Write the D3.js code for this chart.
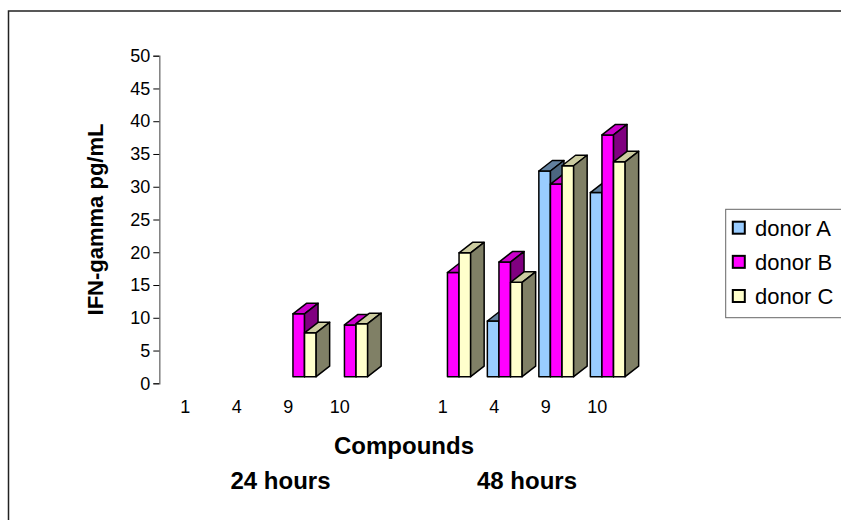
<!DOCTYPE html>
<html>
<head>
<meta charset="utf-8">
<script src="https://cdn.jsdelivr.net/npm/d3@7"></script>
<style>
  body { margin: 0; background: #fff; }
  text { font-family: Arial, "Liberation Sans", sans-serif; fill: #000; }
</style>
</head>
<body>
<div id="chart-area"></div>
<script>
// data (null = no bar drawn)
const slotLabels = ["1", "4", "9", "10", "", "1", "4", "9", "10"]
const donorA = [null, null, null, null, null, null, 8.5, 31.4, 28.1]
const donorB = [null, null, 9.6, 7.9, null, 15.9, 17.5, 29.4, 36.9]
const donorC = [null, null, 6.7, 8.1, null, 18.9, 14.4, 32.2, 32.8]
const seriesNames = ["donor A", "donor B", "donor C"]
const groupLabels = ["24 hours", "48 hours"]
const yTicks = [0, 5, 10, 15, 20, 25, 30, 35, 40, 45, 50]

const WIDTH = 841
const HEIGHT = 520

// bar face colours: front, top, side
const FRONT = ["#99CCFF", "#FF00FF", "#FFFFCC"]
const TOP = ["#62809E", "#CC00CC", "#CCCCA0"]
const SIDE = ["#4C6680", "#800080", "#808066"]

// 3d look: bars sit a bit behind the floor front edge, and have depth
const SHIFT = { X: 10.5, Y: 6.6 }
const DEPTH = { X: 13.5, Y: 10.5 }
const BAR_W = 11.6

const svg = d3.select("#chart-area").append("svg")
  .attr("width", WIDTH)
  .attr("height", HEIGHT)

// chart frame (runs off the right and bottom edges)
svg.append("rect")
  .attr("x", 8.5)
  .attr("y", 11)
  .attr("width", 900)
  .attr("height", 600)
  .attr("fill", "none")
  .attr("stroke", "#222")
  .attr("stroke-width", 1.5)

// scales
const x = d3.scaleBand()
  .domain(d3.range(slotLabels.length))
  .range([159.5, 623])
const y = d3.scaleLinear()
  .domain([0, 50])
  .range([383.3, 55.7])

// y axis
const yAxis = svg.append("g")
  .attr("transform", "translate(159.3, 0)")
  .call(d3.axisLeft(y).tickValues(yTicks).tickSize(6).tickPadding(3))
yAxis.select(".domain").attr("stroke", "#808080").attr("stroke-width", 1.5)
yAxis.selectAll(".tick line").attr("stroke", "#000")
yAxis.selectAll(".tick text")
  .attr("font-size", "18px")
  .attr("font-family", "Arial, 'Liberation Sans', sans-serif")
  .attr("fill", "#000")

// y axis title, centred on the value axis
svg.append("text")
  .attr("transform", `translate(102.5, ${(y(0) + y(50)) / 2}) rotate(-90)`)
  .attr("text-anchor", "middle")
  .attr("font-size", "22px")
  .attr("font-weight", "bold")
  .text("IFN-gamma pg/mL")

// category labels
svg.append("g").selectAll("text")
  .data(slotLabels)
  .join("text")
  .attr("x", (d, i) => x(i) + x.bandwidth() / 2)
  .attr("y", 413)
  .attr("text-anchor", "middle")
  .attr("font-size", "18px")
  .text(d => d)

// x axis titles
svg.append("text")
  .attr("x", 404)
  .attr("y", 454)
  .attr("text-anchor", "middle")
  .attr("font-size", "24px")
  .attr("font-weight", "bold")
  .text("Compounds")

const GROUP_X = [280.5, 527]
svg.append("g").selectAll("text")
  .data(groupLabels)
  .join("text")
  .attr("x", (d, i) => GROUP_X[i])
  .attr("y", 489)
  .attr("text-anchor", "middle")
  .attr("font-size", "24px")
  .attr("font-weight", "bold")
  .text(d => d)

// bars, drawn left to right so nearer faces cover farther ones
const series = [donorA, donorB, donorC]
const bars = []
slotLabels.forEach((lab, i) => {
  series.forEach((vals, j) => {
    if (vals[i] == null) return
    bars.push({ slot: i, s: j, value: vals[i] })
  })
})

const base = y(0) - SHIFT.Y
const barG = svg.append("g")
  .attr("stroke", "#000")
  .attr("stroke-width", 1.5)
  .attr("stroke-linejoin", "round")

bars.forEach(d => {
  const x0 = x(d.slot) + x.bandwidth() / 2 - 1.5 * BAR_W + d.s * BAR_W + SHIFT.X
  const x1 = x0 + BAR_W
  const top = y(d.value) - SHIFT.Y
  const g = barG.append("g")
  g.append("rect")
    .attr("x", x0)
    .attr("y", top)
    .attr("width", BAR_W)
    .attr("height", base - top)
    .attr("fill", FRONT[d.s])
  g.append("polygon")
    .attr("points", [[x0, top], [x1, top], [x1 + DEPTH.X, top - DEPTH.Y], [x0 + DEPTH.X, top - DEPTH.Y]].join(" "))
    .attr("fill", TOP[d.s])
  g.append("polygon")
    .attr("points", [[x1, top], [x1 + DEPTH.X, top - DEPTH.Y], [x1 + DEPTH.X, base - DEPTH.Y], [x1, base]].join(" "))
    .attr("fill", SIDE[d.s])
})

// legend
const legend = svg.append("g")
legend.append("rect")
  .attr("x", 725.7)
  .attr("y", 209.3)
  .attr("width", 140)
  .attr("height", 108.4)
  .attr("fill", "#fff")
  .attr("stroke", "#666")
  .attr("stroke-width", 1)

const rowY = d3.scalePoint()
  .domain(seriesNames)
  .range([227.7, 296])

seriesNames.forEach((name, j) => {
  legend.append("rect")
    .attr("x", 732.8)
    .attr("y", rowY(name) - 6)
    .attr("width", 12)
    .attr("height", 12)
    .attr("fill", FRONT[j])
    .attr("stroke", "#000")
    .attr("stroke-width", 2)
  legend.append("text")
    .attr("x", 755)
    .attr("y", rowY(name) + 8)
    .attr("font-size", "22px")
    .text(name)
})
</script>
</body>
</html>
